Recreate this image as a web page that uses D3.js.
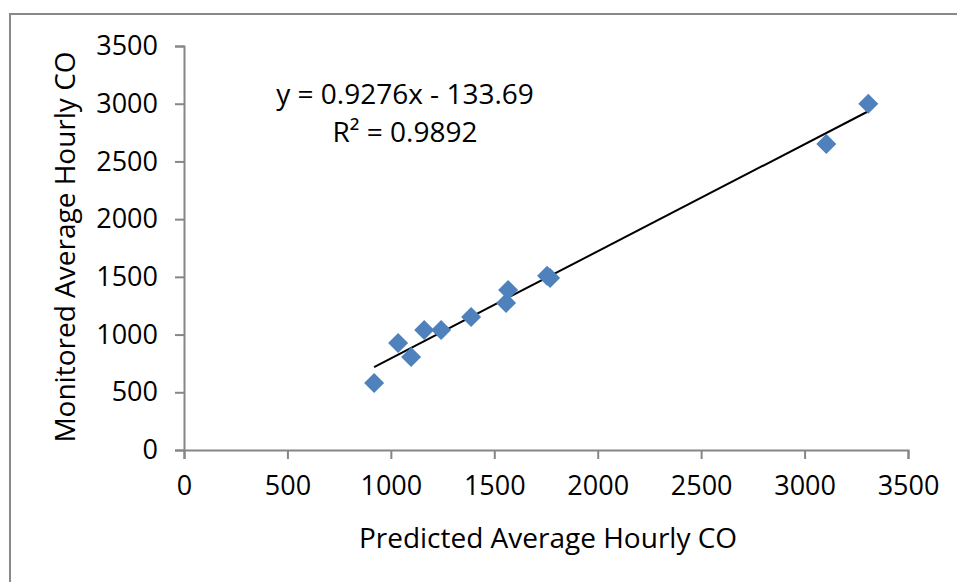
<!DOCTYPE html>
<html>
<head>
<meta charset="utf-8">
<script src="https://cdn.jsdelivr.net/npm/d3@7"></script>
<style>
	body { margin: 0; background: #fff; }
	svg { display: block; font-family: "Open Sans", sans-serif; }
	.tick line, .domain { stroke: #868686; stroke-width: 2; }
</style>
</head>
<body>
<div id="chart"></div>
<script>
// points
var predicted = [919, 1035, 1098, 1161, 1243, 1388, 1557, 1567, 1755, 1770, 3105, 3308]
var monitored = [580, 927, 806, 1040, 1040, 1153, 1274, 1387, 1510, 1490, 2652, 2999]
var xTicks = [0, 500, 1000, 1500, 2000, 2500, 3000, 3500]
var yTicks = [0, 500, 1000, 1500, 2000, 2500, 3000, 3500]
var slope = 0.9276, intercept = -133.69
var eqLines = ["y = 0.9276x - 133.69", "R² = 0.9892"]

var width = 957, height = 582
var margins = {left: 184, right: 49, top: 46, bottom: 132}
var plot_w = width - margins.left - margins.right
var plot_h = height - margins.top - margins.bottom

var svg = d3.select("#chart").append("svg")
	.attr("width", width)
	.attr("height", height)

// outer chart border, runs off the right and bottom edge
svg.append("rect")
	.attr("x", 10).attr("y", 14)
	.attr("width", 980).attr("height", 600)
	.attr("fill", "none")
	.attr("stroke", "#898989")
	.attr("stroke-width", 2)

var chart = svg.append("g")
	.attr("transform", "translate(" + margins.left + "," + margins.top + ")")

var x = d3.scaleLinear().domain([0, 3500]).range([0, plot_w])
var y = d3.scaleLinear().domain([0, 3500]).range([plot_h, 0])

function style_axis(g) {
	g.attr("font-family", "'Open Sans', sans-serif").attr("font-size", 27)
	g.selectAll(".tick text").attr("fill", "#000")
}

chart.append("g")
	.attr("transform", "translate(0," + plot_h + ")")
	.call(d3.axisBottom(x).tickValues(xTicks).tickFormat(d3.format("d")).tickSize(9).tickPadding(17).tickSizeOuter(9))
	.call(style_axis)
chart.append("g")
	.call(d3.axisLeft(y).tickValues(yTicks).tickFormat(d3.format("d")).tickSize(9).tickPadding(17).tickSizeOuter(9))
	.call(style_axis)

// trend line over the data range
var [xmin, xmax] = d3.extent(predicted)
chart.append("line")
	.attr("x1", x(xmin)).attr("y1", y(slope * xmin + intercept))
	.attr("x2", x(xmax)).attr("y2", y(slope * xmax + intercept))
	.attr("stroke", "#000")
	.attr("stroke-width", 2)

var pts = predicted.map((p, i) => ({p: p, m: monitored[i]}))
chart.selectAll("path.point")
	.data(pts)
	.enter()
	.append("path")
	.attr("class", "point")
	.attr("d", d3.symbol().type(d3.symbolSquare).size(200))
	.attr("transform", (d) => "translate(" + x(d.p) + "," + y(d.m) + ") rotate(45)")
	.attr("fill", "#4f81bd")

chart.selectAll("text.eq")
	.data(eqLines)
	.enter()
	.append("text")
	.attr("class", "eq")
	.attr("x", 221)
	.attr("y", (d, i) => 58 + i * 38)
	.style("text-anchor", "middle")
	.style("font-size", "28px")
	.text((d) => d)

svg.append("text")
	.attr("x", 548)
	.attr("y", 548)
	.style("text-anchor", "middle")
	.style("font-size", "28px")
	.text("Predicted Average Hourly CO")

svg.append("text")
	.attr("transform", "translate(75,247) rotate(-90)")
	.style("text-anchor", "middle")
	.style("font-size", "28px")
	.text("Monitored Average Hourly CO")
</script>
</body>
</html>
